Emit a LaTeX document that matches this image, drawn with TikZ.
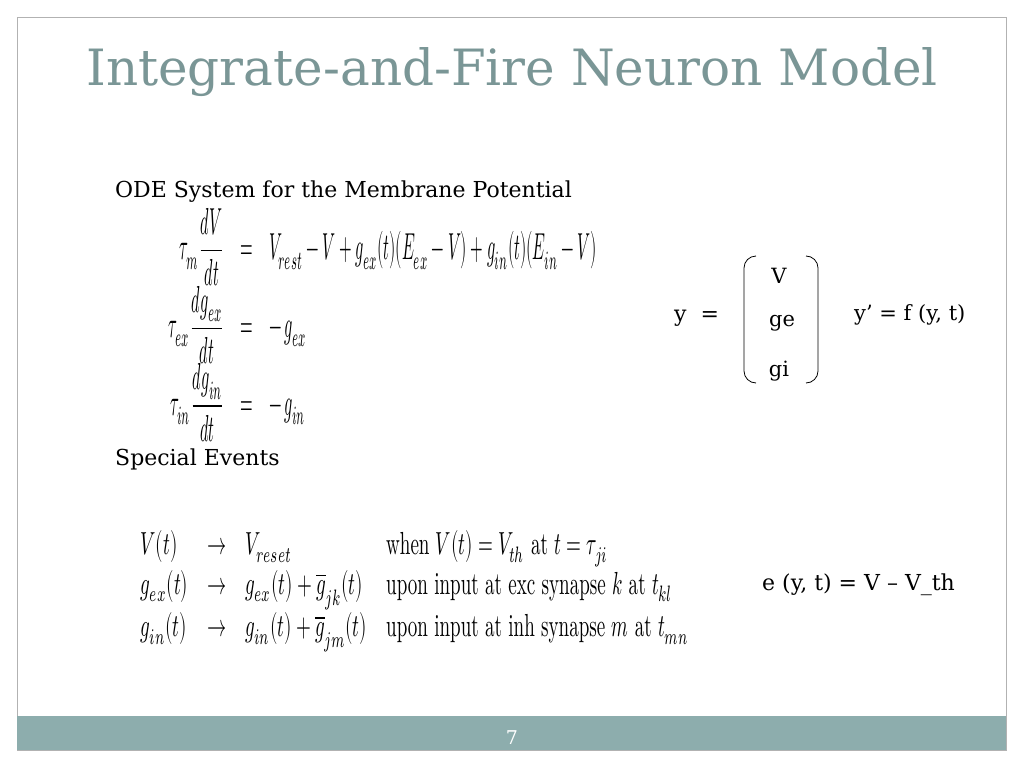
\documentclass[tikz,border=0pt]{standalone}
\usepackage{fontspec}
\setmainfont{DejaVu Serif}
\newfontfamily\lm{Latin Modern Roman}
\usepackage{unicode-math}
\setmathfont{Latin Modern Math}
\begin{document}
\begin{tikzpicture}[x=1pt,y=-1pt,
  txt/.style={anchor=west,inner sep=0pt,font=\fontsize{22}{26}\selectfont},
  eq/.style={anchor=west,inner sep=0pt}]
\useasboundingbox (0,0) rectangle (1024,768);
\fill[white] (0,0) rectangle (1024,768);
\draw[gray!60,line width=0.8pt] (17,17) rectangle (1006,750);
\fill[fill={rgb,255:red,141;green,173;blue,173}] (17,716) rectangle (1006,750);
\node[inner sep=0pt,text=white,font=\fontsize{19}{24}\selectfont] (pg) at (512,738) {7};
\node[inner sep=0pt,text={rgb,255:red,122;green,150;blue,150},font=\fontsize{50}{60}\selectfont] (title) at (512,72) {Integrate-and-Fire Neuron Model};
\node[txt] (ode) at (115,192) {ODE System for the Membrane Potential};
\node[txt] (spec) at (115,459) {Special Events};
\node[eq] (sys) at (160,325) {\resizebox{445pt}{126pt}{\renewcommand{\arraystretch}{1.1}$\begin{array}{rcl}
\displaystyle\tau_m\frac{dV}{dt} &=& V_{rest}-V+g_{ex}(t)(E_{ex}-V)+g_{in}(t)(E_{in}-V)\\
\displaystyle\tau_{ex}\frac{dg_{ex}}{dt} &=& -\,g_{ex}\\
\displaystyle\tau_{in}\frac{dg_{in}}{dt} &=& -\,g_{in}
\end{array}$}};
\node[eq] (ev) at (131,590) {\resizebox{567pt}{70pt}{\lm$\begin{array}{lcll}
V(t) &\rightarrow& V_{reset} & \text{when } V(t)=V_{th} \text{ at } t=\tau_{ji}\\
g_{ex}(t) &\rightarrow& g_{ex}(t)+\overline{g}_{jk}(t) & \text{upon input at exc synapse } k \text{ at } t_{kl}\\
g_{in}(t) &\rightarrow& g_{in}(t)+\overline{g}_{jm}(t) & \text{upon input at inh synapse } m \text{ at } t_{mn}
\end{array}$}};
\node[txt] (y) at (674,318) {y\ \ =};
\draw[line width=0.8pt] (756,256) to[out=180,in=90] (744,268) -- (744,371) to[out=-90,in=180] (756,383);
\draw[line width=0.8pt] (806,256) to[out=0,in=90] (818,268) -- (818,371) to[out=-90,in=0] (806,383);
\node[inner sep=0pt,font=\fontsize{21}{24}\selectfont] (v) at (779,276) {V};
\node[inner sep=0pt,font=\fontsize{21}{24}\selectfont] (ge) at (782,323) {ge};
\node[inner sep=0pt,font=\fontsize{21}{24}\selectfont] (gi) at (779,371) {gi};
\node[txt,font=\fontsize{21}{24}\selectfont] (f) at (854,315) {y’ = f (y, t)};
\node[txt] (e) at (762,585) {e (y, t) = V – V\_th};
\end{tikzpicture}
\end{document}
